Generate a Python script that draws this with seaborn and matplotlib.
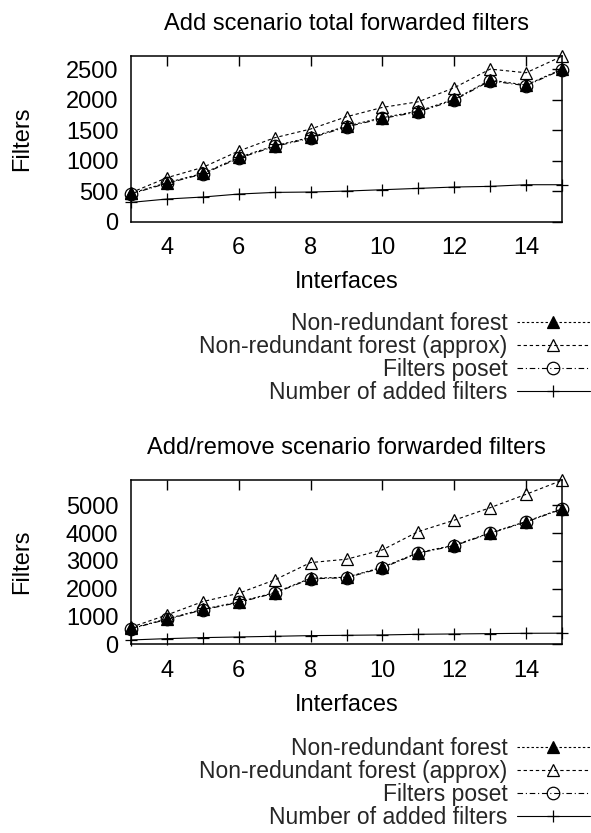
import matplotlib
matplotlib.use("Agg")
import matplotlib.pyplot as plt
import seaborn as sns
import pandas as pd

interfaces = [3, 4, 5, 6, 7, 8, 9, 10, 11, 12, 13, 14, 15]

add_nonred = [465, 640, 793, 1056, 1247, 1384, 1570, 1707, 1816, 2008, 2325, 2243, 2505]
add_approx = [476, 722, 892, 1160, 1378, 1521, 1723, 1876, 1969, 2199, 2505, 2445, 2715]
add_poset = [455, 630, 783, 1042, 1235, 1372, 1556, 1695, 1802, 1995, 2312, 2232, 2495]
add_added = [317, 372, 405, 454, 481, 487, 503, 525, 547, 569, 580, 607, 607]

rem_nonred = [576, 912, 1260, 1524, 1860, 2376, 2412, 2772, 3300, 3564, 4008, 4416, 4878]
rem_approx = [612, 1056, 1536, 1836, 2316, 2940, 3060, 3396, 4056, 4464, 4914, 5396, 5900]
rem_poset = [560, 895, 1240, 1505, 1840, 2355, 2395, 2750, 3280, 3545, 3990, 4400, 4862]
rem_added = [156, 204, 240, 264, 288, 312, 324, 336, 360, 372, 384, 396, 400]

labels = ["Non-redundant forest", "Non-redundant forest (approx)",
          "Filters poset", "Number of added filters"]
titles = ["Add scenario total forwarded filters", "Add/remove scenario forwarded filters"]
yticks_top = [0, 500, 1000, 1500, 2000, 2500]
yticks_bot = [0, 1000, 2000, 3000, 4000, 5000]
xticks = [4, 6, 8, 10, 12, 14]

sns.set_theme(style="white")
plt.rcParams['font.family'] = ['Liberation Sans', 'DejaVu Sans']
FS = 17
LFS = 16.5

fig = plt.figure(figsize=(5.91, 8.33), dpi=100)
W, H = 591, 833


def axes_px(left, top, right, bottom):
    return fig.add_axes([left / W, 1 - bottom / H, (right - left) / W, (bottom - top) / H])


styles = [
    dict(marker='^', linestyle=(0, (2.2, 2.0)), markersize=8, mfc='black', mec='black'),
    dict(marker='^', linestyle=(0, (3.0, 2.5)), markersize=9, mfc='none', mec='black'),
    dict(marker='o', linestyle=(0, (5.0, 2.5, 1.0, 2.5)), markersize=9, mfc='none', mec='black'),
    dict(marker='+', linestyle='-', markersize=9, mec='black'),
]


def panel(ax, series, ymax, yticks, title, legend_top):
    for vals, lab, st in zip(series, labels, styles):
        df = pd.DataFrame({"Interfaces": interfaces, "Filters": vals})
        sns.lineplot(data=df, x="Interfaces", y="Filters", ax=ax, color='black',
                     linewidth=0.8, markeredgewidth=0.9, errorbar=None, label=lab,
                     legend=False, clip_on=False, **st)
    ax.set_xlim(3, 15)
    ax.set_ylim(0, ymax)
    ax.set_xticks(xticks)
    ax.set_yticks(yticks)
    ax.tick_params(direction='in', length=7, width=1, top=True, right=True,
                   labelsize=FS, colors='black')
    ax.tick_params(axis='x', pad=11)
    ax.tick_params(axis='y', pad=9)
    for sp in ax.spines.values():
        sp.set_visible(True)
        sp.set_color('black')
        sp.set_linewidth(1.1)
    ax.set_title(title, fontsize=FS, pad=19, color='black')
    ax.set_xlabel("Interfaces", fontsize=FS, color='black', va='center')
    ax.set_ylabel("Filters", fontsize=FS, color='black', va='center')
    hpx = ax.get_position().height * H
    ax.xaxis.set_label_coords(0.5, -60.5 / hpx)
    ax.yaxis.set_label_coords((22 - 131) / 431, 0.5)
    handles, labs = ax.get_legend_handles_labels()
    fig.legend(handles, labs, loc='upper right',
               bbox_to_anchor=(590 / W, 1 - legend_top / H),
               frameon=False, markerfirst=False, fontsize=LFS, handlelength=3.2,
               handletextpad=0.4, labelspacing=0.0, borderpad=0, borderaxespad=0)


ax1 = axes_px(131, 56, 562, 221.7)
panel(ax1, [add_nonred, add_approx, add_poset, add_added], 2720, yticks_top, titles[0], 312)

ax2 = axes_px(131, 480, 562, 644.3)
panel(ax2, [rem_nonred, rem_approx, rem_poset, rem_added], 5910, yticks_bot, titles[1], 737)

fig.savefig("out.png", dpi=100)
